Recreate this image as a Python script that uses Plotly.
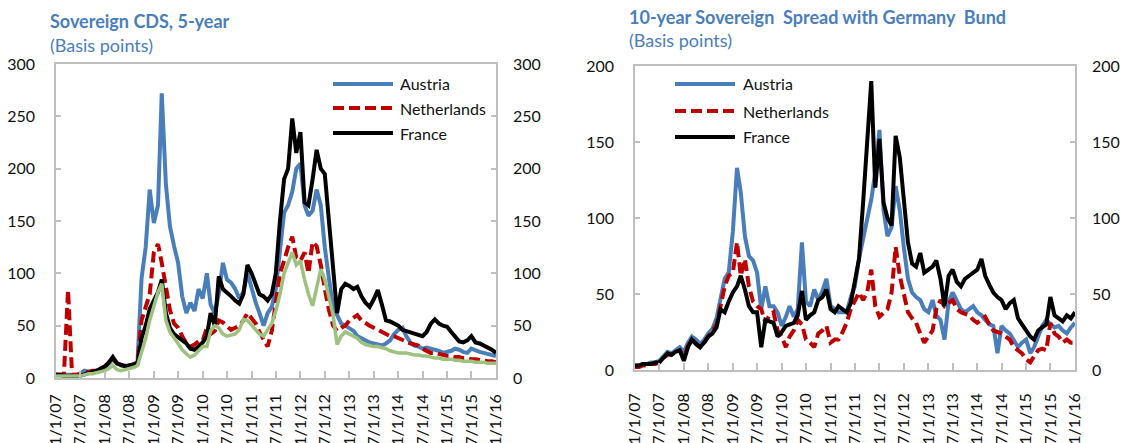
import pandas as pd
import plotly.graph_objects as go

# ---------------- data ----------------
DATES = pd.date_range("2007-01-01", "2016-01-01", freq="MS")  # monthly, 109 points
TICK_DATES = pd.date_range("2007-01-01", "2016-01-01", freq="6MS")
TICK_LABELS = ["1/1/07", "7/1/07", "1/1/08", "7/1/08", "1/1/09", "7/1/09", "1/1/10",
               "7/1/10", "1/1/11", "7/1/11", "1/1/12", "7/1/12", "1/1/13", "7/1/13",
               "1/1/14", "7/1/14", "1/1/15", "7/1/15", "1/1/16"]

# Left panel: Sovereign CDS, 5-year (basis points)
CDS_AUSTRIA = [3, 3, 3, 3, 3, 3, 4, 7, 6, 6, 7, 8,
               10, 14, 18, 14, 12, 12, 11, 12, 15, 95, 125, 180,
               148, 165, 272, 185, 145, 126, 110, 78, 62, 72, 64, 85,
               76, 100, 70, 62, 80, 110, 94, 91, 85, 76, 82, 100,
               85, 72, 62, 50, 62, 68, 85, 125, 158, 165, 178, 200,
               205, 165, 155, 160, 180, 165, 125, 95, 68, 60, 52, 50,
               48, 45, 40, 38, 35, 34, 33, 32, 31, 33, 36, 42,
               46, 48, 40, 34, 31, 30, 28, 29, 28, 27, 26, 24,
               25, 26, 28, 27, 25, 24, 28, 26, 25, 24, 23, 22,
               21]
CDS_NETHERLANDS = [3, 3, 3, 84, 3, 3, 4, 5, 6, 7, 7, 9,
                   11, 15, 18, 14, 12, 11, 12, 13, 15, 55, 68, 80,
                   120, 128, 110, 85, 65, 52, 48, 40, 33, 30, 32, 35,
                   36, 48, 42, 45, 55, 53, 50, 46, 48, 50, 55, 62,
                   57, 52, 44, 36, 30, 45, 75, 100, 112, 125, 135, 115,
                   112, 120, 100, 130, 126, 108, 85, 65, 50, 45, 48, 50,
                   55, 58, 60, 55, 52, 50, 48, 46, 44, 42, 40, 40,
                   38, 36, 34, 33, 32, 31, 28, 26, 24, 24, 23, 22,
                   21, 21, 20, 20, 19, 19, 18, 18, 17, 17, 16, 16,
                   15]
CDS_FRANCE = [3, 3, 2, 2, 2, 1, 2, 4, 5, 6, 7, 9,
              11, 15, 20, 14, 12, 11, 12, 13, 14, 38, 50, 66,
              75, 82, 94, 62, 48, 42, 39, 36, 33, 28, 27, 30,
              34, 40, 62, 50, 97, 85, 82, 78, 74, 71, 80, 108,
              100, 90, 80, 78, 74, 80, 100, 150, 190, 200, 248, 215,
              235, 168, 165, 190, 218, 200, 195, 150, 110, 62, 85, 90,
              88, 85, 87, 78, 72, 68, 75, 84, 70, 55, 54, 52,
              50, 46, 45, 44, 43, 42, 40, 44, 52, 56, 52, 50,
              49, 44, 40, 35, 34, 36, 40, 34, 33, 31, 30, 27,
              24]
CDS_UNLABELED = [2, 2, 2, 2, 2, 2, 2, 3, 4, 4, 5, 6,
                 7, 9, 12, 8, 7, 8, 9, 10, 12, 25, 38, 55,
                 70, 82, 90, 55, 44, 38, 32, 27, 23, 20, 22, 26,
                 30, 30, 45, 50, 48, 42, 40, 41, 42, 46, 56, 55,
                 50, 46, 42, 40, 46, 52, 64, 80, 100, 110, 120, 108,
                 112, 94, 80, 69, 85, 104, 94, 75, 60, 32, 40, 44,
                 42, 40, 38, 34, 32, 31, 30, 30, 29, 28, 26, 25,
                 24, 24, 24, 23, 22, 22, 21, 21, 20, 19, 19, 18,
                 18, 18, 17, 17, 16, 16, 16, 15, 15, 15, 14, 14,
                 14]

# Right panel: 10-year sovereign spread with Germany Bund (basis points)
SPR_AUSTRIA = [3, 3, 4, 4, 5, 5, 6, 9, 12, 11, 13, 15,
               12, 18, 22, 20, 17, 20, 24, 27, 34, 47, 60, 64,
               91, 133, 117, 88, 75, 72, 64, 40, 55, 42, 42, 38,
               29, 35, 42, 35, 40, 84, 45, 42, 53, 46, 52, 60,
               42, 40, 38, 38, 38, 48, 55, 73, 85, 99, 112, 130,
               158, 105, 88, 94, 121, 105, 81, 60, 51, 48, 46, 40,
               38, 46, 36, 33, 20, 45, 51, 46, 40, 38, 40, 42,
               38, 36, 33, 30, 29, 11, 29, 26, 24, 20, 15, 18,
               20, 11, 15, 22, 29, 33, 30, 28, 29, 26, 24, 28,
               31]
SPR_NETHERLANDS = [2, 2, 3, 3, 4, 4, 5, 8, 10, 10, 12, 13,
                   8, 16, 20, 17, 15, 18, 22, 25, 30, 42, 55, 62,
                   64, 84, 62, 73, 55, 45, 42, 40, 31, 36, 38, 26,
                   22, 15, 22, 26, 33, 30, 20, 18, 15, 24, 26, 29,
                   18, 20, 20, 25, 31, 40, 46, 51, 46, 51, 66, 42,
                   35, 38, 40, 51, 81, 62, 51, 38, 34, 31, 24, 18,
                   22, 26, 40, 46, 42, 44, 46, 40, 38, 37, 36, 33,
                   31, 33, 35, 30, 26, 25, 24, 22, 20, 15, 13, 11,
                   7, 5, 9, 13, 14, 13, 31, 24, 22, 18, 20, 18,
                   18]
SPR_FRANCE = [3, 3, 4, 4, 4, 5, 5, 8, 11, 10, 12, 13,
              6, 15, 20, 17, 15, 18, 22, 24, 28, 40, 38, 45,
              51, 55, 62, 53, 42, 38, 38, 15, 33, 32, 31, 22,
              25, 29, 30, 31, 36, 52, 33, 36, 38, 46, 48, 53,
              40, 38, 42, 40, 38, 44, 60, 73, 110, 150, 190, 120,
              152, 110, 100, 95, 154, 140, 110, 84, 70, 68, 77, 64,
              66, 68, 72, 60, 42, 62, 66, 58, 55, 60, 62, 64,
              66, 73, 62, 56, 51, 48, 46, 40, 44, 46, 34, 30,
              26, 22, 20, 26, 28, 30, 48, 36, 34, 32, 36, 34,
              38]

NAMES = ["Austria", "Netherlands", "France"]

# ---------------- styles ----------------
C_AUT = "#4A7EBB"
C_NLD = "#C00000"
C_FRA = "#000000"
C_GRN = "#9CC27E"
COLORS = [C_AUT, C_NLD, C_FRA]
TITLE_C = "#4A7EBB"
AX_C = "#BFBFBF"
FONT = "Lato, 'Open Sans', sans-serif"
TXT_C = "#111111"
W, H = 1125, 443
DASH = "11px,5px"
DASHES = ["solid", DASH, "solid"]


def fx(px):  # pixel -> paper fraction
    return px / W


def fy(py):
    return (H - py) / H


fig = go.Figure()


def add(x, y, name, color, xa, ya, dash="solid", width=4):
    fig.add_trace(go.Scatter(
        x=x, y=y, name=name, mode="lines",
        line=dict(color=color, width=width, dash=dash),
        xaxis=xa, yaxis=ya, showlegend=False,
        hoverinfo="x+y+name"))


# left panel
add(DATES, CDS_AUSTRIA, NAMES[0], C_AUT, "x", "y")
add(DATES, CDS_NETHERLANDS, NAMES[1], C_NLD, "x", "y", dash=DASH)
add(DATES, CDS_FRANCE, NAMES[2], C_FRA, "x", "y")
add(DATES, CDS_UNLABELED, "Other", C_GRN, "x", "y", width=3.5)
# right panel
add(DATES, SPR_AUSTRIA, NAMES[0], C_AUT, "x2", "y3")
add(DATES, SPR_NETHERLANDS, NAMES[1], C_NLD, "x2", "y3", dash=DASH)
add(DATES, SPR_FRANCE, NAMES[2], C_FRA, "x2", "y3")

# placeholder traces so the secondary (right-hand) axes are drawn
fig.add_trace(go.Scatter(x=[DATES[0]], y=[None], xaxis="x", yaxis="y2",
                         showlegend=False, hoverinfo="skip"))
fig.add_trace(go.Scatter(x=[DATES[0]], y=[None], xaxis="x2", yaxis="y4",
                         showlegend=False, hoverinfo="skip"))

tick_font = dict(family=FONT, size=16, color=TXT_C)


def xaxis(domain, anchor, standoff):
    return dict(domain=domain, anchor=anchor, type="date", automargin=False,
                range=[DATES[0], DATES[-1]],
                tickmode="array", tickvals=TICK_DATES, ticktext=TICK_LABELS,
                tickangle=-90, ticks="inside", ticklen=7, tickcolor=AX_C, tickwidth=1.5,
                showline=True, linecolor=AX_C, linewidth=1.5, mirror=True,
                showgrid=False, zeroline=False, tickfont=tick_font,
                ticklabelstandoff=standoff)


def yaxis(domain, anchor, rng):
    return dict(domain=domain, anchor=anchor, range=rng, dtick=50, automargin=False,
                ticks="inside", ticklen=5, tickcolor=AX_C, tickwidth=1.5,
                showline=True, linecolor=AX_C, linewidth=1.5, mirror="ticks",
                showgrid=False, zeroline=False, tickfont=tick_font,
                ticklabelstandoff=16)


def yaxis_r(over, pos, rng):
    return dict(overlaying=over, anchor="free", position=pos, side="right",
                range=rng, dtick=50, automargin=False, showline=False,
                showgrid=False, zeroline=False, ticks="", tickfont=tick_font)


L_DOM = [fx(56), fx(496)]
L_YDOM = [fy(378), fy(64)]
R_DOM = [fx(635), fx(1075)]
R_YDOM = [fy(370), fy(66)]

# legend drawn as paper-positioned samples + text (long line samples as in the original)
LEG_L = dict(x0=333, x1=393, tx=398, ys=[84, 108, 133])
LEG_R = dict(x0=675, x1=735, tx=741, ys=[84, 111, 137])

shapes = []
annotations = []
for leg in (LEG_L, LEG_R):
    for name, col, dash, yy in zip(NAMES, COLORS, DASHES, leg["ys"]):
        shapes.append(dict(type="line", xref="paper", yref="paper",
                           x0=fx(leg["x0"]), x1=fx(leg["x1"]),
                           y0=fy(yy), y1=fy(yy),
                           line=dict(color=col, width=4, dash=dash)))
        annotations.append(dict(text=name, x=fx(leg["tx"]), y=fy(yy),
                                xref="paper", yref="paper", xanchor="left",
                                yanchor="middle", showarrow=False,
                                font=dict(family=FONT, size=16, color=TXT_C)))

titles = [
    ("<b>Sovereign CDS, 5-year</b>", 48, 21),
    ("(Basis points)", 48, 45),
    ("<b>10-year Sovereign  Spread with Germany  Bund</b>", 627, 17),
    ("(Basis points)", 627, 40),
]
for txt, tx, ty in titles:
    annotations.append(dict(text=txt, x=fx(tx), y=fy(ty),
                            xref="paper", yref="paper", xanchor="left",
                            yanchor="middle", showarrow=False,
                            font=dict(family=FONT, size=18, color=TITLE_C)))

fig.update_layout(
    width=W, height=H, margin=dict(l=0, r=0, t=0, b=0, autoexpand=False),
    paper_bgcolor="white", plot_bgcolor="white",
    font=dict(family=FONT, size=16, color=TXT_C),
    showlegend=False,
    xaxis=xaxis(L_DOM, "y", 8),
    yaxis=yaxis(L_YDOM, "x", [0, 300]),
    yaxis2=yaxis_r("y", fx(512), [0, 300]),
    xaxis2=xaxis(R_DOM, "y3", 15),
    yaxis3=yaxis(R_YDOM, "x2", [0, 200]),
    yaxis4=yaxis_r("y3", fx(1091), [0, 200]),
    shapes=shapes,
    annotations=annotations,
)

# remove the browser's default page margin so the 1125x443 figure fills the window exactly
fig.write_html("out.html",
               config={"displayModeBar": False},
               post_script="document.body.style.margin='0';document.body.style.overflow='hidden';")
